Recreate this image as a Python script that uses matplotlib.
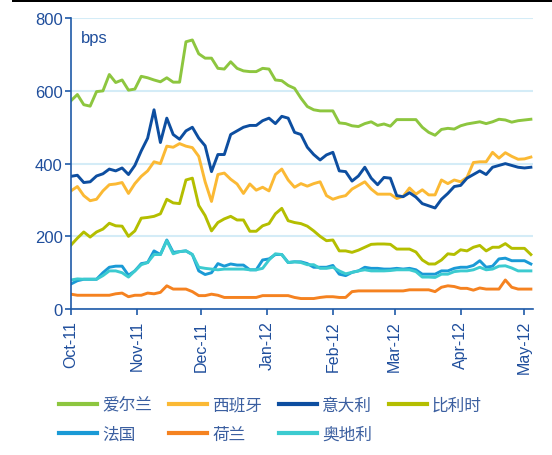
import matplotlib
matplotlib.use("Agg")
import matplotlib.pyplot as plt
import matplotlib.dates as mdates
from matplotlib.patches import Rectangle
import pandas as pd

# sample dates, every 3 days from 1 Oct 2011
dates = pd.date_range("2011-10-01", periods=73, freq="3D")

ireland = [573, 590, 562, 558, 598, 600, 645, 623, 630, 602,
           605, 640, 636, 630, 625, 636, 624, 624, 735, 740,
           702, 690, 690, 662, 660, 680, 662, 655, 653, 653,
           662, 660, 630, 628, 615, 607, 580, 557, 548, 545,
           545, 545, 512, 510, 504, 502, 510, 515, 505, 509,
           503, 521, 521, 521, 521, 500, 486, 478, 494, 497,
           495, 504, 509, 512, 515, 510, 515, 522, 520, 514,
           518, 520, 522]
spain = [325, 337, 312, 298, 302, 325, 342, 344, 348, 318,
         345, 365, 380, 405, 400, 448, 445, 455, 448, 444,
         420, 350, 296, 370, 374, 357, 344, 318, 344, 327,
         335, 325, 370, 385, 355, 335, 345, 338, 345, 350,
         312, 302, 308, 312, 330, 340, 350, 330, 316, 316,
         316, 304, 310, 333, 316, 328, 314, 314, 355, 345,
         355, 350, 362, 403, 405, 405, 431, 415, 430, 420,
         412, 413, 418]
italy = [365, 368, 348, 350, 366, 372, 385, 380, 388, 370,
         395, 435, 470, 548, 458, 525, 480, 467, 490, 500,
         470, 449, 378, 425, 425, 480, 490, 500, 505, 505,
         518, 525, 510, 530, 525, 486, 480, 445, 425, 410,
         424, 431, 380, 378, 352, 366, 390, 360, 342, 362,
         360, 312, 309, 320, 308, 290, 284, 278, 302, 318,
         337, 340, 360, 370, 380, 370, 390, 395, 400, 395,
         390, 388, 390]
belgium = [176, 195, 212, 198, 212, 220, 236, 229, 228, 200,
           215, 250, 252, 255, 262, 302, 292, 290, 355, 360,
           285, 257, 215, 238, 248, 255, 245, 245, 214, 214,
           229, 235, 262, 277, 243, 238, 235, 228, 215, 200,
           188, 190, 160, 160, 156, 162, 170, 178, 179, 179,
           178, 165, 165, 165, 157, 135, 124, 124, 135, 152,
           150, 163, 160, 170, 175, 160, 170, 170, 180, 167,
           167, 167, 150]
france = [69, 78, 82, 82, 82, 100, 115, 118, 118, 93,
          105, 125, 128, 160, 150, 190, 156, 158, 160, 150,
          105, 95, 100, 125, 118, 124, 121, 121, 108, 108,
          135, 138, 150, 150, 128, 130, 130, 125, 115, 115,
          115, 120, 96, 92, 101, 105, 115, 112, 112, 110,
          110, 112, 110, 112, 108, 96, 96, 96, 105, 105,
          112, 115, 115, 120, 133, 115, 118, 138, 140, 133,
          133, 133, 124]
netherlands = [41, 38, 38, 38, 38, 38, 38, 42, 44, 34,
               38, 38, 44, 42, 46, 64, 55, 55, 55, 48,
               37, 37, 41, 38, 32, 32, 32, 32, 32, 32,
               37, 37, 37, 37, 37, 32, 29, 29, 29, 32,
               34, 34, 32, 32, 48, 50, 50, 50, 50, 50,
               50, 50, 50, 53, 53, 53, 53, 48, 60, 64,
               62, 57, 57, 52, 58, 55, 55, 55, 80, 60,
               55, 55, 55]
austria = [80, 83, 82, 82, 82, 92, 105, 105, 100, 88,
           105, 122, 128, 150, 150, 188, 152, 158, 160, 150,
           115, 112, 110, 108, 110, 110, 110, 110, 108, 108,
           112, 135, 152, 150, 128, 130, 128, 122, 122, 112,
           112, 115, 105, 97, 101, 105, 108, 105, 105, 105,
           106, 108, 108, 108, 103, 88, 88, 87, 96, 96,
           103, 105, 105, 108, 115, 108, 110, 118, 119, 113,
           105, 105, 105]

names = ["爱尔兰", "西班牙", "意大利", "比利时", "法国", "荷兰", "奥地利"]
colors = ["#8dc63f", "#fbb934", "#0d4ea0", "#b4be00", "#1a9ad6", "#f58220", "#3ccbd0"]
series = [ireland, spain, italy, belgium, france, netherlands, austria]

blue = "#1f5aa8"
txt = "#1f4e9c"

fig = plt.figure(figsize=(5.52, 4.56), dpi=100)
ax = fig.add_axes([0.1286, 0.320, 0.8370, 0.638])

handles = []
for name, col, s in zip(names, colors, series):
    h, = ax.plot(dates, s, color=col, lw=2.1, label=name)
    handles.append(h)

ax.set_ylim(0, 800)
ax.set_yticks([0, 200, 400, 600, 800])
ax.set_xlim(pd.Timestamp("2011-10-01"), pd.Timestamp("2012-05-05"))
ax.xaxis.set_major_locator(mdates.MonthLocator())
ax.xaxis.set_major_formatter(mdates.DateFormatter("%b-%y"))

ax.grid(axis="y", color="#d4ecf7", lw=1.5)
ax.set_axisbelow(True)
for sp in ["top", "right"]:
    ax.spines[sp].set_visible(False)
for sp in ["left", "bottom"]:
    ax.spines[sp].set_color(blue)
    ax.spines[sp].set_linewidth(1.2)

ax.tick_params(axis="both", direction="out", length=4, width=1.2, color=blue,
               labelcolor=txt)
ax.tick_params(axis="y", labelsize=12, pad=2)
ax.tick_params(axis="x", labelsize=11.5, pad=4)
for lab in ax.get_xticklabels():
    lab.set_rotation(90)
    lab.set_fontfamily("Liberation Sans")
for lab in ax.get_yticklabels():
    lab.set_fontfamily("Liberation Sans")

ax.text(0.022, 0.96, "bps", transform=ax.transAxes, color=txt, fontsize=12,
        family="Liberation Sans", va="top")

# black rule at the top
fig.add_artist(Rectangle((12 / 552, 1 - 3 / 456), 1, 3 / 456, transform=fig.transFigure,
                         color="black", lw=0))

# legend: 4 columns, filled row by row
order = [0, 4, 1, 5, 2, 6, 3]
leg = fig.legend([handles[i] for i in order], [names[i] for i in order],
                 ncol=4, loc="upper left", bbox_to_anchor=(0.107, 0.128),
                 frameon=False, borderpad=0, borderaxespad=0,
                 handlelength=2.3, handletextpad=0.3, columnspacing=1.0,
                 labelspacing=0.75,
                 prop={"family": ["Noto Sans CJK SC", "DejaVu Sans"], "size": 12})
for t in leg.get_texts():
    t.set_color("#3b5fa0")
for l in leg.get_lines():
    l.set_linewidth(3)

fig.savefig("out.png", dpi=100)
